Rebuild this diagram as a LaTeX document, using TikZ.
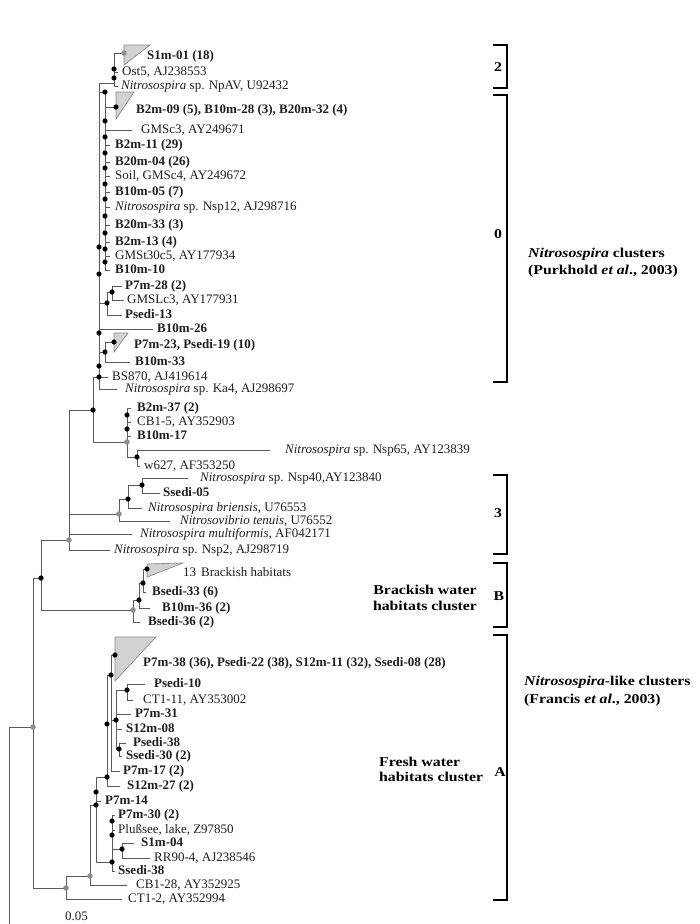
\documentclass[tikz,border=0pt]{standalone}
\usepackage{fontspec}
\setmainfont{Liberation Serif}
\newfontfamily\widebold[FakeStretch=1.17]{Liberation Serif}
\definecolor{linegray}{HTML}{5A5A5A}
\definecolor{dotgray}{HTML}{8E8E8E}
\definecolor{trifill}{HTML}{D2D2D2}
\definecolor{triedge}{HTML}{8A8A8A}
\definecolor{labtext}{HTML}{1E1E1E}
% a tip: name, parent, end x, y, label x, text
\newcommand\treeleaf[6]{%
  \coordinate (#1-e) at (#3,#4);
  \node[lab] (#1) at (#5,#4) {#6};
  \draw[br] (#2) |- (#1-e);}
% an inner node: name, parent, x, y
\newcommand\treenode[4]{%
  \coordinate (#1) at (#3,#4);
  \draw[br] (#2) |- (#1);}
\newcommand\blackdot[1]{\fill[black] #1 circle (2.6pt);}
\newcommand\greydot[1]{\fill[dotgray] #1 circle (2.8pt);}
\begin{document}
\begin{tikzpicture}[x=1pt,y=-1pt,
  br/.style={draw=linegray,line width=1pt},
  lab/.style={anchor=west,inner sep=0pt,text=labtext,text height=8.8pt,text depth=2.6pt,
              font=\fontsize{13}{15}\selectfont},
  tri/.style={fill=trifill,draw=triedge,line width=0.7pt},
  bracket/.style={draw=black,line width=1.8pt},
  blab/.style={inner sep=0pt,font=\fontsize{13.5}{15}\widebold\bfseries},
  rlab/.style={inner sep=0pt,font=\fontsize{13.5}{15}\widebold\bfseries}]
\useasboundingbox (0,0) rectangle (700,924);

% ---------- root and deep backbone ----------
\coordinate (root) at (9,727);
\coordinate (rootend) at (9,924);
\draw[br] (root) -- (rootend);
\treenode{n33}{root}{33}{727}
\treenode{n41}{n33}{41}{578}
\treenode{n69}{n41}{69}{540}
\treenode{n93}{n69}{93}{410}
\treenode{n99}{n93}{99}{377}

% ---------- cluster 2 ----------
\treenode{c2}{n99}{114}{83}
\treenode{c2t}{c2}{124}{53}
\filldraw[tri] (c2t) ++(0,-8) -- ++(26,0) -- ++(-26,20) -- cycle;
\node[lab] (s1m01) at (147,56) {\textbf{S1m-01 (18)}};
\treeleaf{ost5}{c2}{118}{72}{122}{Ost5, AJ238553}
\treeleaf{npav}{c2}{118}{86}{121}{\textit{Nitrosospira} sp. NpAV, U92432}

% ---------- cluster 0 ----------
\treenode{n105}{n99}{105}{92}
\treenode{tb}{n105}{116}{107}
\filldraw[tri] (tb) ++(0,-15) -- ++(18,0) -- ++(-18,27) -- cycle;
\node[lab] (b2m09) at (136,110) {\textbf{B2m-09 (5), B10m-28 (3), B20m-32 (4)}};
\treeleaf{gmsc3}{n105}{132}{130}{141}{GMSc3, AY249671}
\treeleaf{b2m11}{n105}{110}{145}{115}{\textbf{B2m-11 (29)}}
\treeleaf{b20m04}{n105}{110}{162}{115}{\textbf{B20m-04 (26)}}
\treeleaf{soil}{n105}{110}{176}{115}{Soil, GMSc4, AY249672}
\treeleaf{b10m05}{n105}{110}{192}{115}{\textbf{B10m-05 (7)}}
\treeleaf{nsp12}{n105}{110}{207}{115}{\textit{Nitrosospira} sp. Nsp12, AJ298716}
\treeleaf{b20m33}{n105}{110}{225}{115}{\textbf{B20m-33 (3)}}
\treeleaf{b2m13}{n105}{110}{242}{115}{\textbf{B2m-13 (4)}}
\treeleaf{gmst}{n105}{110}{256}{115}{GMSt30c5, AY177934}
\treeleaf{b10m10}{n105}{110}{270}{115}{\textbf{B10m-10}}

\treenode{n107}{n99}{107}{303}
\treenode{n112}{n107}{112}{292}
\treeleaf{p7m28}{n112}{122}{286}{125}{\textbf{P7m-28 (2)}}
\treeleaf{gmslc3}{n112}{124}{300}{127}{GMSLc3, AY177931}
\treeleaf{psedi13}{n107}{122}{315}{125}{\textbf{Psedi-13}}
\treeleaf{b10m26}{n99}{153}{329}{157}{\textbf{B10m-26}}
\treenode{n105b}{n99}{105}{352}
\treenode{tp}{n105b}{114}{342}
\filldraw[tri] (tp) ++(0,-9) -- ++(14,0) -- ++(-14,19) -- cycle;
\node[lab] (p7m23) at (134,345) {\textbf{P7m-23, Psedi-19 (10)}};
\treeleaf{b10m33}{n105b}{130}{362}{135}{\textbf{B10m-33}}
\treeleaf{bs870}{n99}{108}{377}{112}{BS870, AJ419614}
\treeleaf{ka4}{n99}{117}{389}{125}{\textit{Nitrosospira} sp. Ka4, AJ298697}

% ---------- Nsp65 group ----------
\treenode{nnsp}{n93}{127}{442}
\treeleaf{b2m37}{nnsp}{131}{408}{137}{\textbf{B2m-37 (2)}}
\treeleaf{cb15}{nnsp}{131}{422}{137}{CB1-5, AY352903}
\treeleaf{b10m17}{nnsp}{131}{436}{137}{\textbf{B10m-17}}
\treenode{n137}{nnsp}{137}{457}
\treeleaf{nsp65}{n137}{270}{450}{285}{\textit{Nitrosospira} sp. Nsp65, AY123839}
\treeleaf{w627}{n137}{140}{466}{144}{w627, AF353250}

% ---------- cluster 3 ----------
\treenode{c3}{n69}{119}{514}
\treenode{c3a}{c3}{128}{499}
\treenode{c3b}{c3a}{142}{485}
\treeleaf{nsp40}{c3b}{188}{478}{200}{\textit{Nitrosospira} sp. Nsp40,AY123840}
\treeleaf{ssedi05}{c3b}{160}{493}{163}{\textbf{Ssedi-05}}
\treeleaf{bri}{c3a}{142}{508}{148}{\textit{Nitrosospira briensis}, U76553}
\treeleaf{ten}{c3}{170}{521}{180}{\textit{Nitrosovibrio tenuis}, U76552}
\treeleaf{mult}{n69}{132}{534}{140}{\textit{Nitrosospira multiformis}, AF042171}
\treeleaf{nsp2}{n69}{110}{550}{114}{\textit{Nitrosospira} sp. Nsp2, AJ298719}

% ---------- cluster B ----------
\treenode{nbr}{n41}{133}{610}
\treenode{nbr1}{nbr}{139}{600}
\treenode{nbr2}{nbr1}{143}{583}
\treenode{tbr}{nbr2}{147}{569}
\filldraw[tri] (tbr) ++(0,-5) -- ++(36,-1) -- ++(-36,14) -- cycle;
\node[lab] (brh) at (183,573) {13\hspace{5pt}Brackish habitats};
\treeleaf{bsedi33}{nbr2}{146}{592}{152}{\textbf{Bsedi-33 (6)}}
\treeleaf{b10m36}{nbr1}{150}{608}{162}{\textbf{B10m-36 (2)}}
\treeleaf{bsedi36}{nbr}{140}{622}{148}{\textbf{Bsedi-36 (2)}}

% ---------- cluster A ----------
\treenode{na0}{n33}{66}{888}
\treenode{n90}{na0}{90}{876}
\treenode{n96}{n90}{96}{805}
\treenode{n107a}{n96}{107}{777}
\treenode{n111}{n107a}{111}{675}
\treenode{ta}{n111}{115}{655}
\filldraw[tri] (ta) ++(0,-18) -- ++(41,0) -- ++(-41,44) -- cycle;
\node[lab] (p7m38) at (143,663) {\textbf{P7m-38 (36), Psedi-22 (38), S12m-11 (32), Ssedi-08 (28)}};
\treenode{n117}{n111}{116}{720}
\treenode{n127}{n117}{127}{690}
\treeleaf{psedi10}{n127}{145}{684}{154}{\textbf{Psedi-10}}
\treeleaf{ct111}{n127}{133}{700}{143}{CT1-11, AY353002}
\treeleaf{p7m31}{n117}{131}{714}{135}{\textbf{P7m-31}}
\treeleaf{s12m08}{n117}{122}{729}{126}{\textbf{S12m-08}}
\treenode{n119}{n117}{119}{749}
\treeleaf{psedi38}{n119}{126}{743}{133}{\textbf{Psedi-38}}
\treeleaf{ssedi30}{n119}{122}{756}{126}{\textbf{Ssedi-30 (2)}}
\treeleaf{p7m17}{n111}{120}{771}{123}{\textbf{P7m-17 (2)}}
\treeleaf{s12m27}{n107a}{120}{786}{127}{\textbf{S12m-27 (2)}}
\treeleaf{p7m14}{n96}{101}{801}{105}{\textbf{P7m-14}}
\treenode{n112a}{n96}{112}{862}
\treeleaf{p7m30}{n112a}{115}{815}{118}{\textbf{P7m-30 (2)}}
\treeleaf{pluss}{n112a}{115}{830}{118}{Plußsee, lake, Z97850}
\treenode{n122}{n112a}{122}{849}
\treeleaf{s1m04}{n122}{134}{843}{141}{\textbf{S1m-04}}
\treeleaf{rr90}{n122}{150}{858}{154}{RR90-4, AJ238546}
\treeleaf{ssedi38}{n112a}{115}{871}{118}{\textbf{Ssedi-38}}
\treeleaf{cb128}{n90}{127}{885}{136}{CB1-28, AY352925}
\treeleaf{ct12}{na0}{122}{899}{128}{CT1-2, AY352994}

% ---------- node dots ----------
\foreach \p in {(114,69),(114,78),(105,92),(tb),
  (105,121),(105,137),(105,153),(105,168),(105,184),(105,199),(105,216),(105,233),(105,249),(105,262),
  (99,247),(99,274),(n112),(n107),(tp),(n105b),(99,333),(99,366),(n99),(n93),
  (127,415),(127,429),(n137),(c3a),(c3b),(n41),(nbr1),(nbr2),(tbr),
  (ta),(n111),(n117),(n127),(n119),(n107a),(107,724),(n96),(96,792),(n112a),(112,821),(112,835),(n122)}
  {\blackdot{\p}}
\foreach \p in {(c2t),(nnsp),(c3),(n69),(nbr),(n33),(n90),(na0)}
  {\greydot{\p}}

\node[lab] (scale) at (65,917) {0.05};

% ---------- cluster brackets ----------
\draw[bracket] (493,45) -- (507,45) -- (507,88) -- (493,88);
\node[blab] (k2) at (498,67) {2};
\draw[bracket] (493,95) -- (507,95) -- (507,382) -- (493,382);
\node[blab] (k0) at (498,234) {0};
\draw[bracket] (493,475) -- (507,475) -- (507,554) -- (493,554);
\node[blab] (k3) at (498,513) {3};
\draw[bracket] (493,563) -- (507,563) -- (507,627) -- (493,627);
\node[blab] (kB) at (499,596) {B};
\draw[bracket] (493,635) -- (507,635) -- (507,900) -- (493,900);
\node[blab] (kA) at (500,772) {A};

\node[rlab,anchor=west] (pk1) at (528,254) {\textit{Nitrosospira} clusters};
\node[rlab,anchor=west] (pk2) at (528,271) {(Purkhold \textit{et al}., 2003)};
\node[rlab] (bw1) at (425,590) {Brackish water};
\node[rlab] (bw2) at (425,606) {habitats cluster};
\node[rlab,anchor=west] (fw1) at (379,762) {Fresh water};
\node[rlab,anchor=west] (fw2) at (379,777) {habitats cluster};
\node[rlab,anchor=west] (fr1) at (524,682) {\textit{Nitrosospira}-like clusters};
\node[rlab,anchor=west] (fr2) at (524,700) {(Francis \textit{et al}., 2003)};
\end{tikzpicture}
\end{document}
